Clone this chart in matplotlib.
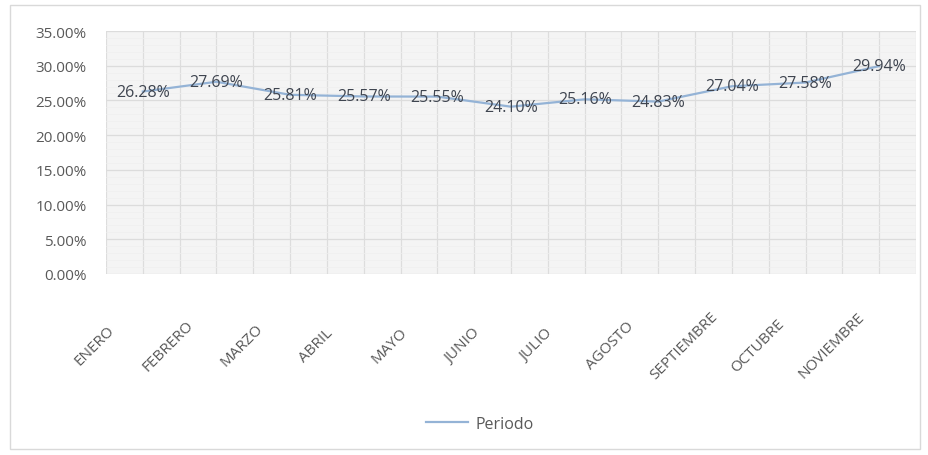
import matplotlib.pyplot as plt
from matplotlib.patches import Rectangle
from matplotlib.ticker import FuncFormatter, MultipleLocator
from matplotlib.transforms import ScaledTranslation

meses = ['ENERO', 'FEBRERO', 'MARZO', 'ABRIL', 'MAYO', 'JUNIO', 'JULIO',
         'AGOSTO', 'SEPTIEMBRE', 'OCTUBRE', 'NOVIEMBRE']
periodo = [26.28, 27.69, 25.81, 25.57, 25.55, 24.10, 25.16, 24.83, 27.04, 27.58, 29.94]

plt.rcParams['font.family'] = ['Open Sans', 'DejaVu Sans']

fig = plt.figure(figsize=(9.29, 4.56), dpi=100)
# Rahmen um das ganze Diagramm
fig.patches.append(Rectangle((10 / 929, 6 / 456), 910 / 929, 444 / 456,
                             transform=fig.transFigure, fill=False,
                             edgecolor='#d9d9d9', linewidth=1))

ax = fig.add_axes([106 / 929, 1 - 275 / 456, 810 / 929, 243 / 456])
ax.set_facecolor('#f4f4f4')

x = list(range(len(meses)))
ax.plot(x, periodo, color='#94b3d6', linewidth=1.6, label='Periodo', zorder=3)
for xi, v in zip(x, periodo):
    ax.text(xi, v, f'{v:.2f}%', ha='center', va='center', fontsize=11.5,
            color='#3f4550', zorder=4)

ax.set_xlim(-0.5, len(meses) - 0.5)
ax.set_ylim(0, 35)
ax.yaxis.set_major_locator(MultipleLocator(5))
ax.yaxis.set_minor_locator(MultipleLocator(1))
ax.yaxis.set_major_formatter(FuncFormatter(lambda v, p: f'{v:.2f}%'))
ax.set_xticks(x)
ax.set_xticks([i - 0.5 for i in range(len(meses) + 1)], minor=True)
ax.set_xticklabels([])

# Monatsnamen schraeg unter der Achse, wie in Excel versetzt
off = ScaledTranslation(-0.48, -0.71, fig.dpi_scale_trans)
for xi, m in zip(x, meses):
    ax.text(xi, 0, m, transform=ax.get_xaxis_transform() + off, rotation=45,
            rotation_mode='anchor', ha='center', va='center', fontsize=11,
            color='#595959')

ax.grid(which='major', axis='y', color='#dcdcdc', linewidth=0.9)
ax.grid(which='minor', axis='y', color='#efefef', linewidth=0.5)
ax.grid(which='both', axis='x', color='#dddddd', linewidth=0.9)
ax.set_axisbelow(True)
ax.tick_params(which='both', length=0, colors='#595959', labelsize=11)
ax.tick_params(axis='y', pad=14)
for s in ax.spines.values():
    s.set_visible(False)

fig.legend(loc='center', bbox_to_anchor=(480 / 929, 1 - 425 / 456),
           frameon=False, fontsize=11.5, labelcolor='#595959',
           handlelength=2.6, handletextpad=0.5)

plt.savefig('out.png')
